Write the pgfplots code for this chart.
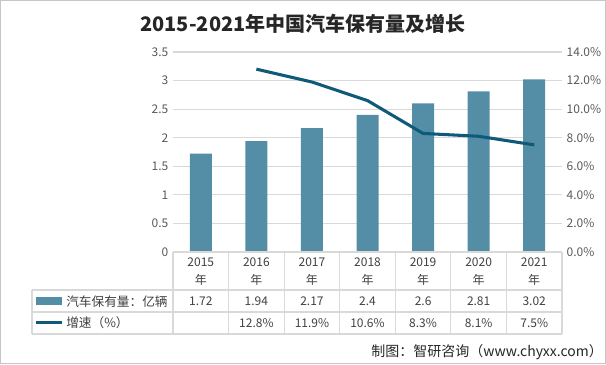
\documentclass[border=0pt]{standalone}
\usepackage{fontspec}
\setmainfont{Noto Sans CJK SC}
\usepackage{pgfplots}
\pgfplotsset{compat=1.18}
\definecolor{barc}{RGB}{84,141,166}
\definecolor{linec}{RGB}{14,90,120}
\definecolor{gridc}{RGB}{217,217,217}
\definecolor{tickc}{RGB}{89,89,89}
\definecolor{txtc}{RGB}{64,64,64}
\begin{document}
\begin{tikzpicture}[x=0.75pt,y=-0.75pt]
\useasboundingbox (0,0) rectangle (606,364);
\draw[gray!45] (0.5,0.5) rectangle (605.5,363.5);
% title
\node[font=\fontsize{15}{18}\selectfont\bfseries, text=black!85] at (303,24) {2015-2021年中国汽车保有量及增长};
% bar axis
\begin{axis}[at={(129.75pt,-189pt)}, anchor=south west, scale only axis,
  width=291.75pt, height=150pt,
  xmin=-0.5, xmax=6.5, ymin=0, ymax=3.5,
  ytick={0,0.5,...,3.5}, xtick=\empty,
  axis line style={draw=none}, ytick style={draw=none},
  ymajorgrids, grid style={gridc, line width=0.8pt},
  yticklabel style={text=tickc, font=\fontsize{9}{10}\selectfont},
  /pgf/number format/assume math mode=true,
  clip=false]
\addplot[ybar, bar width=16.5pt, fill=barc, draw=none] coordinates {(0,1.72) (1,1.94) (2,2.17) (3,2.4) (4,2.6) (5,2.81) (6,3.02)};
\end{axis}
% line axis
\begin{axis}[at={(129.75pt,-189pt)}, anchor=south west, scale only axis,
  width=291.75pt, height=150pt,
  xmin=-0.5, xmax=6.5, ymin=0, ymax=14,
  ytick={0,2,...,14}, xtick=\empty,
  axis y line*=right, axis x line=none,
  axis line style={draw=none}, ytick style={draw=none},
  yticklabel={\pgfmathprintnumber[fixed,fixed zerofill,precision=1]{\tick}\%},
  yticklabel style={text=tickc, font=\fontsize{9}{10}\selectfont},
  /pgf/number format/assume math mode=true]
\addplot[linec, line width=2.3pt, mark=none] coordinates {(1,12.8) (2,11.9) (3,10.6) (4,8.3) (5,8.1) (6,7.5)};
\end{axis}
% data table
\draw[gridc, line width=0.8pt] (173,252) -- (562,252);
\draw[gridc, line width=0.8pt] (32,290) -- (562,290);
\draw[gridc, line width=0.8pt] (32,312) -- (562,312);
\draw[gridc, line width=0.8pt] (32,334) -- (562,334);
\draw[gridc, line width=0.8pt] (32,290) -- (32,334);
\foreach \k in {0,...,7} {
  \draw[gridc, line width=0.8pt] ({173+55.57*\k},252) -- ({173+55.57*\k},334);
}
\foreach \y [count=\i from 0] in {2015,2016,2017,2018,2019,2020,2021} {
  \node[font=\fontsize{9}{13.5}\selectfont, text=txtc, align=center] at ({200.8+55.57*\i},272) {\y\\年};
}
\foreach \v [count=\i from 0] in {1.72,1.94,2.17,2.4,2.6,2.81,3.02} {
  \node[font=\fontsize{9}{10}\selectfont, text=txtc] at ({200.8+55.57*\i},301.5) {\v};
}
\foreach \v [count=\i from 1] in {12.8,11.9,10.6,8.3,8.1,7.5} {
  \node[font=\fontsize{9}{10}\selectfont, text=txtc] at ({200.8+55.57*\i},323.5) {\v\%};
}
\fill[barc] (36,297) rectangle (62,305);
\draw[linec, line width=2.3pt] (36,322.5) -- (62,322.5);
\node[anchor=west, font=\fontsize{9.5}{10}\selectfont, text=txtc, inner sep=0pt] at (66,301.5) {汽车保有量：亿辆};
\node[anchor=west, font=\fontsize{9.5}{10}\selectfont, text=txtc, inner sep=0pt] at (66,322.5) {增速（\%）};
% source
\node[anchor=east, font=\fontsize{10.5}{12}\selectfont, text=black!85, inner sep=0pt] at (603,352) {制图：智研咨询（www.chyxx.com）};
\end{tikzpicture}
\end{document}
